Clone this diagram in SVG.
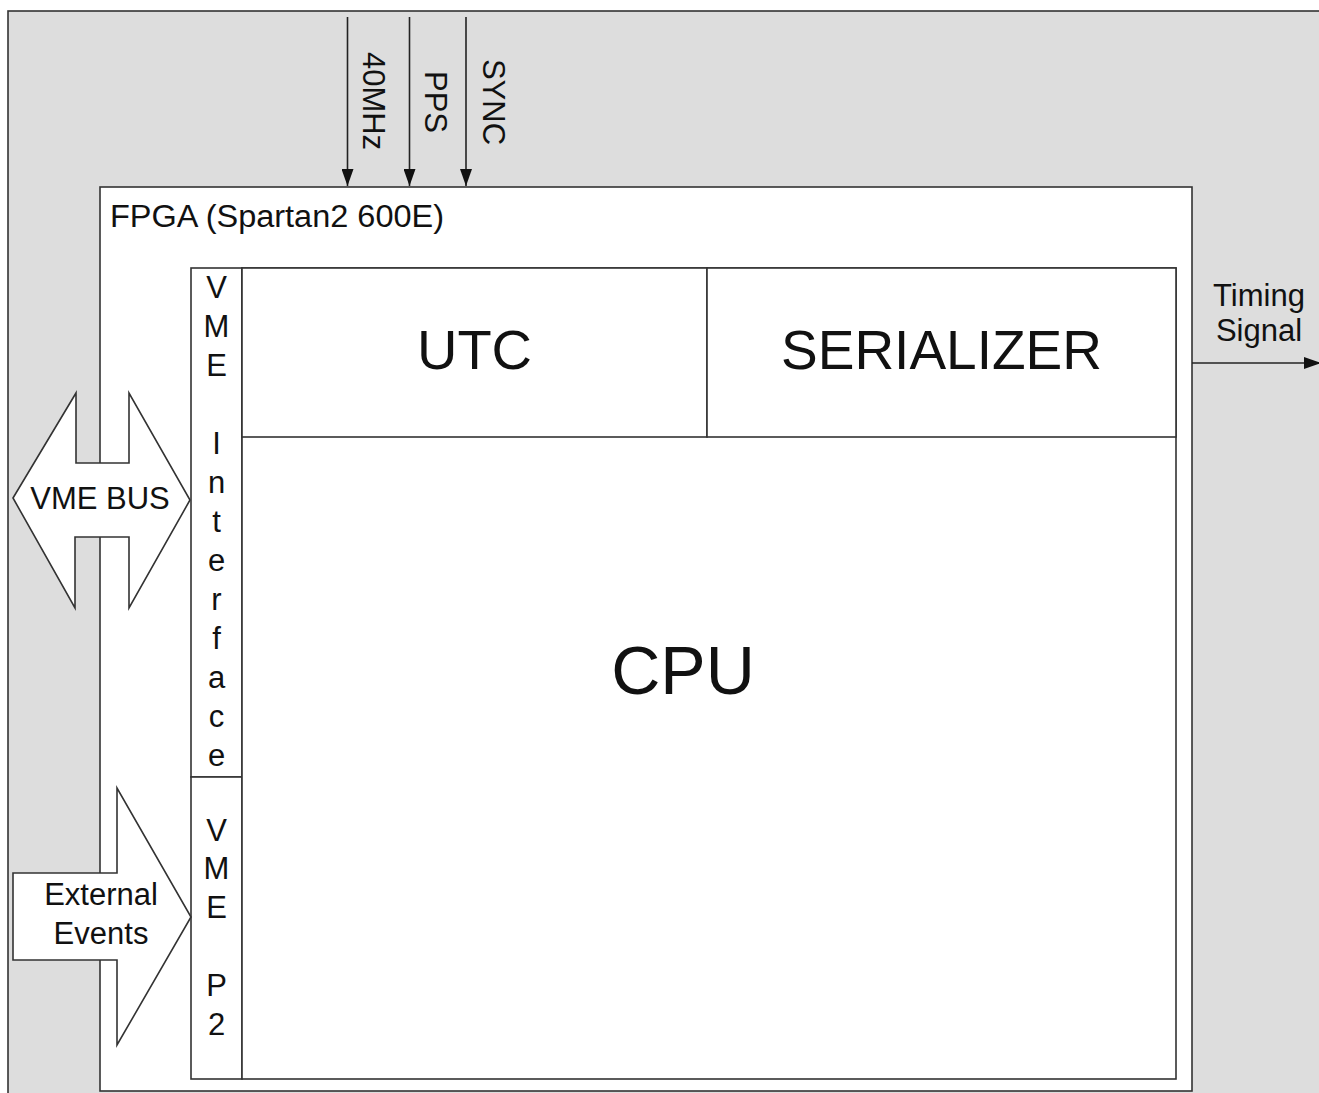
<svg xmlns="http://www.w3.org/2000/svg" width="1319" height="1093" viewBox="0 0 1319 1093">
<defs>
<style>
.ln{stroke:#222;stroke-width:1.6;fill:none}
.box{fill:#fff;stroke:#333;stroke-width:1.6}
.t{font-family:"Liberation Sans",Arial,sans-serif;fill:#111}
.s31{font-size:31px}
.col{font-size:31px;text-anchor:middle}
</style>
<marker id="ah" viewBox="0 0 17 12" refX="17" refY="6" markerWidth="17" markerHeight="12" orient="auto" markerUnits="userSpaceOnUse">
<path d="M0,0 L17,6 L0,12 z" fill="#111"/>
</marker>
</defs>
<rect x="0" y="0" width="1319" height="1093" fill="#fff"/>
<rect id="frame" x="8" y="11" width="1330" height="1100" fill="#dddddd" stroke="#333" stroke-width="1.6"/>

<g id="fpga">
<rect class="box" x="100" y="187" width="1092" height="904"/>
<text class="t s31" x="110" y="227" textLength="334" lengthAdjust="spacingAndGlyphs">FPGA (Spartan2 600E)</text>
</g>

<g id="vme-interface">
<rect class="box" x="191" y="268" width="51" height="509"/>
<text class="t col" x="216.5" y="298">V</text>
<text class="t col" x="216.5" y="337">M</text>
<text class="t col" x="216.5" y="376">E</text>
<text class="t col" x="216.5" y="454">I</text>
<text class="t col" x="216.5" y="493">n</text>
<text class="t col" x="216.5" y="532">t</text>
<text class="t col" x="216.5" y="571">e</text>
<text class="t col" x="216.5" y="610">r</text>
<text class="t col" x="216.5" y="649">f</text>
<text class="t col" x="216.5" y="688">a</text>
<text class="t col" x="216.5" y="727">c</text>
<text class="t col" x="216.5" y="766">e</text>
</g>

<g id="vme-p2">
<rect class="box" x="191" y="777" width="51" height="302"/>
<text class="t col" x="216.5" y="841">V</text>
<text class="t col" x="216.5" y="879">M</text>
<text class="t col" x="216.5" y="918">E</text>
<text class="t col" x="216.5" y="996">P</text>
<text class="t col" x="216.5" y="1035">2</text>
</g>

<g id="cpu">
<rect class="box" x="242" y="268" width="934" height="811"/>
<text class="t" x="683" y="694" font-size="68" text-anchor="middle">CPU</text>
</g>

<g id="utc">
<rect class="box" x="242" y="268" width="465" height="169"/>
<text class="t" x="474.5" y="369" font-size="56" text-anchor="middle">UTC</text>
</g>

<g id="serializer">
<rect class="box" x="707" y="268" width="469" height="169"/>
<text class="t" x="941.5" y="369" font-size="55" text-anchor="middle">SERIALIZER</text>
</g>

<g id="vme-bus">
<polygon class="box" points="13,498 76,393 76,463 129,463 129,393 190,500 129,608 129,537 75,537 75,608"/>
<text class="t s31" x="100" y="509" text-anchor="middle">VME BUS</text>
</g>

<g id="external-events">
<polygon class="box" points="13,873 117,873 117,788 191,917 117,1045 117,960 13,960"/>
<text class="t s31" x="101" y="905" text-anchor="middle">External</text>
<text class="t s31" x="101" y="944" text-anchor="middle">Events</text>
</g>

<g id="connectors">
<line class="ln" x1="347.5" y1="17" x2="347.5" y2="186" marker-end="url(#ah)"/>
<line class="ln" x1="409.5" y1="17" x2="409.5" y2="186" marker-end="url(#ah)"/>
<line class="ln" x1="466" y1="17" x2="466" y2="186" marker-end="url(#ah)"/>
<line class="ln" x1="1192" y1="363" x2="1321" y2="363" marker-end="url(#ah)"/>
</g>

<g id="labels">
<text class="t s31" transform="translate(363,101) rotate(90)" text-anchor="middle">40MHz</text>
<text class="t s31" transform="translate(425,102) rotate(90)" text-anchor="middle">PPS</text>
<text class="t s31" transform="translate(483,102) rotate(90)" text-anchor="middle">SYNC</text>
<text class="t s31" x="1259" y="306" text-anchor="middle">Timing</text>
<text class="t s31" x="1259" y="341" text-anchor="middle">Signal</text>
</g>
</svg>
